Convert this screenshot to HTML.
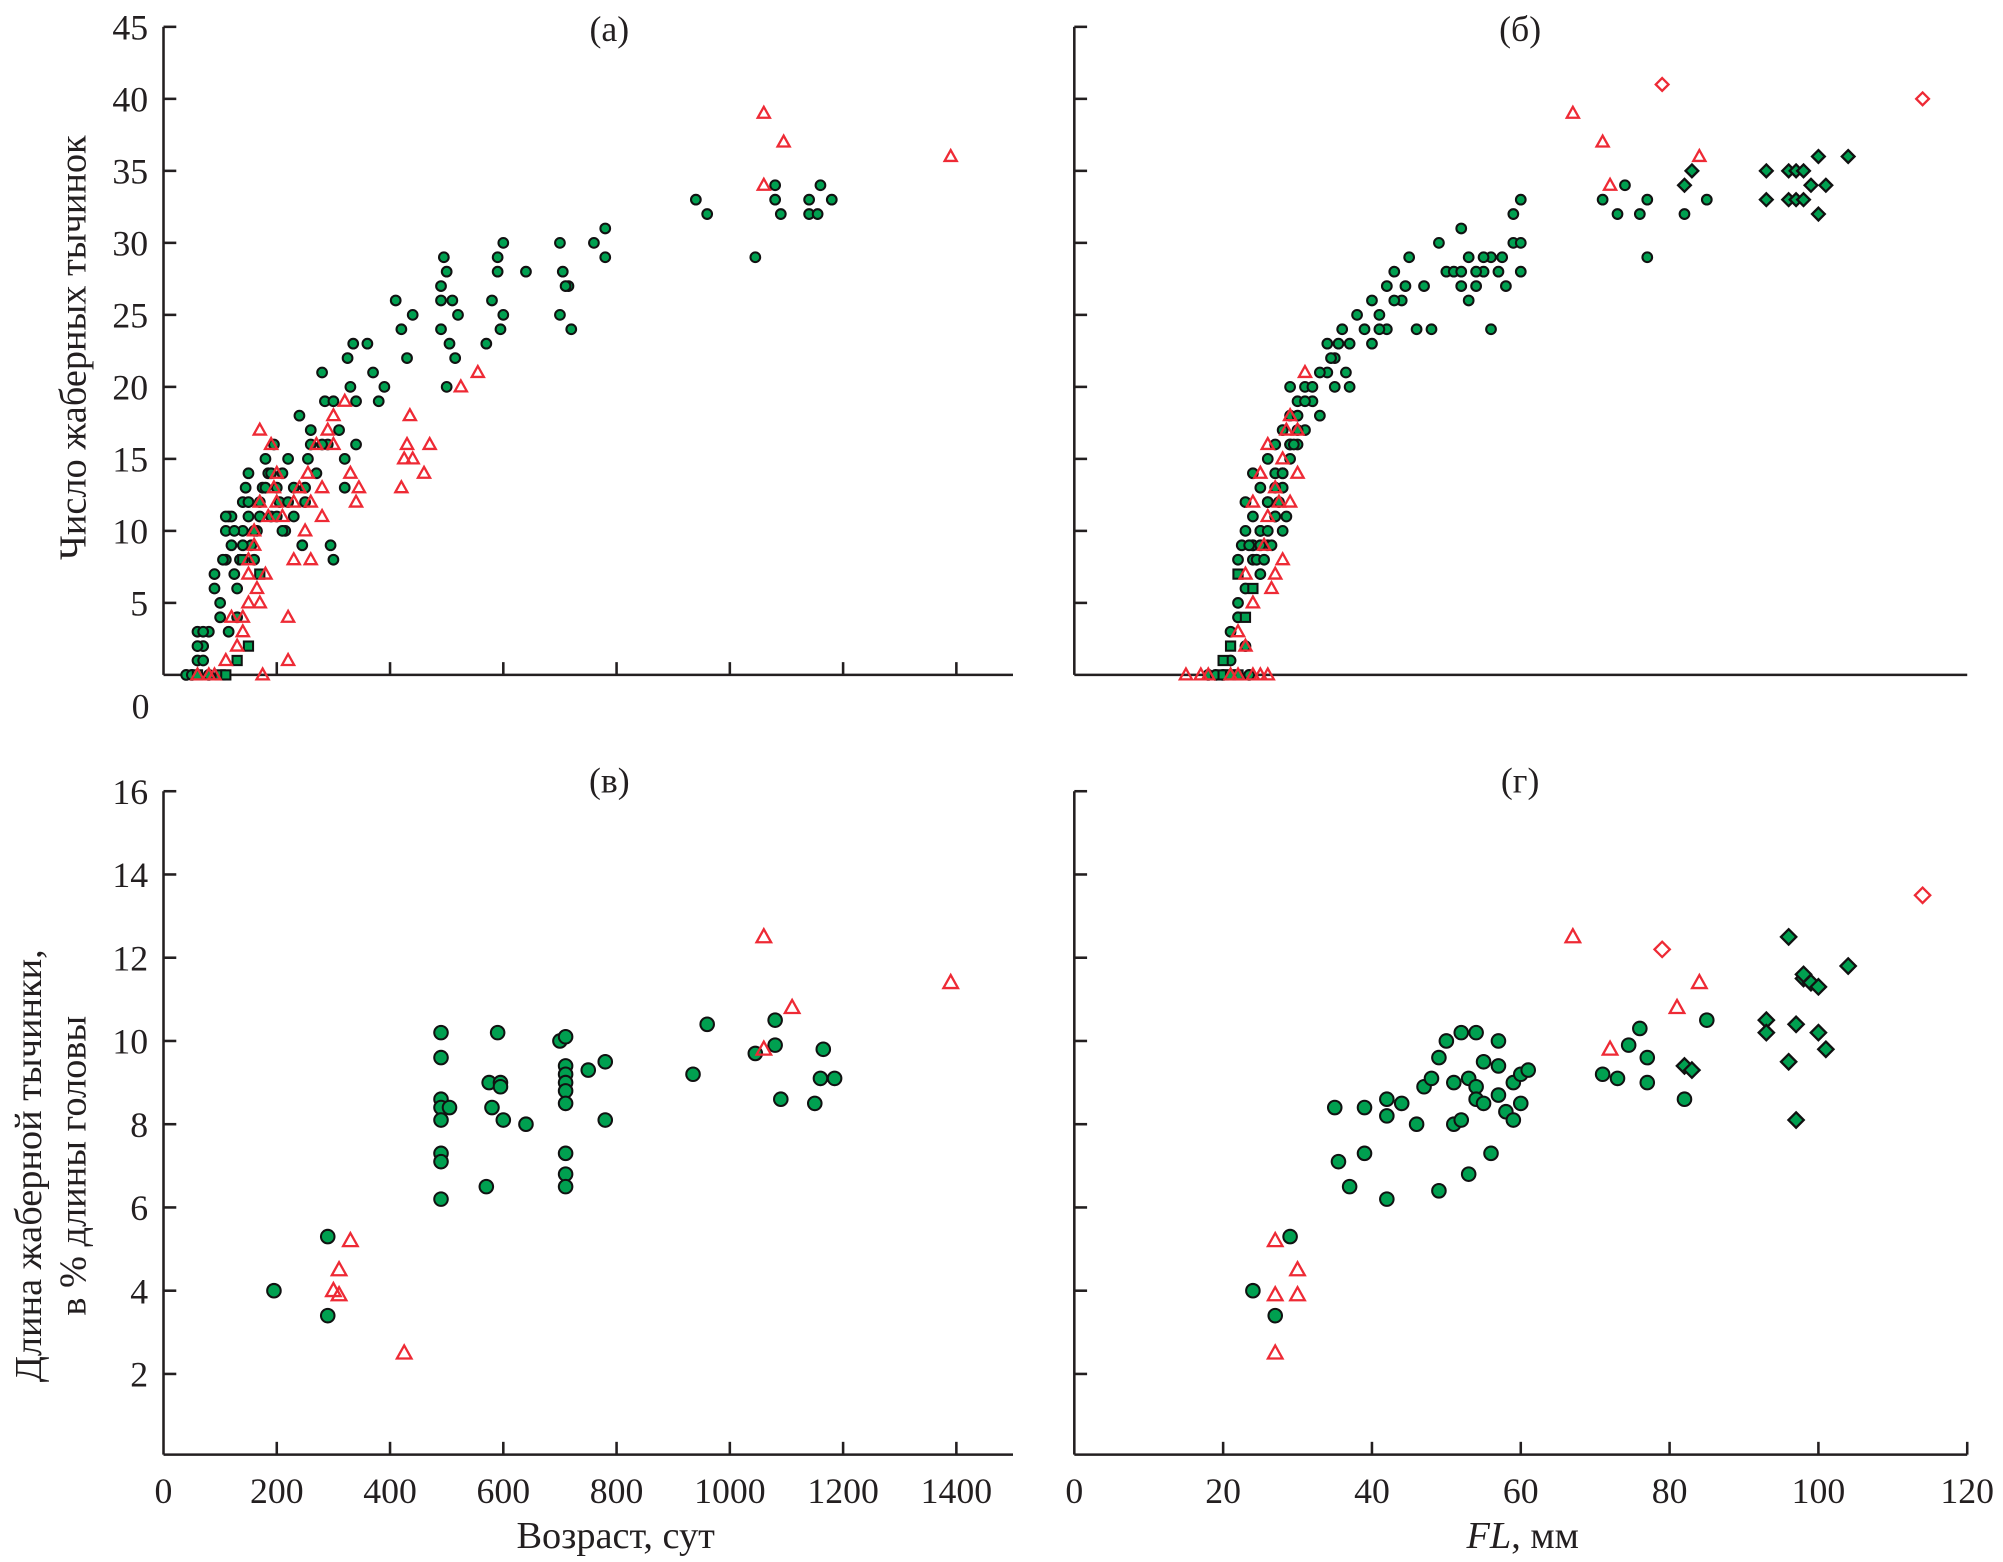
<!DOCTYPE html>
<html><head><meta charset="utf-8">
<style>html,body{margin:0;padding:0;background:#fff}svg{display:block}text{font-family:"Liberation Serif","DejaVu Serif",serif;fill:#231f20}</style>
</head><body>
<svg id="chart" xmlns="http://www.w3.org/2000/svg" width="2003" height="1562" viewBox="0 0 1568 1222" preserveAspectRatio="none"></svg>
<script>
// ---- Panel (а): age vs gill raker count ----
const aCircleX=[40,50,60,70,80,60,70,90,90,100,110,110,115,120,125,130,130,140,140,145,150,150,155,160,165,170,175,180,185,190,195,200,205,210,215,220,230,240,245,250,255,260,270,280,285,290,295,300,310,320,325,330,335,340,360,370,380,390,410,420,430,440,490,490,495,500,505,510,515,520,570,580,590,595,600,600,640,700,705,715,720,760,780,780,940,960,1045,1080,1080,1090,1140,1140,1160,1180,1155,100,105,120,125,135,140,150,160,170,180,190,200,210,220,230,250,260,280,300,320,340,500,490,700,710,590,60,70,80,110,115];
const aCircleY=[0,0,3,2,3,1,1,7,6,5,8,10,11,9,7,6,4,10,12,13,11,14,9,8,10,12,13,15,14,11,16,13,12,14,10,15,13,18,9,12,15,17,14,21,19,16,9,8,17,13,22,20,23,16,23,21,19,20,26,24,22,25,24,27,29,28,23,26,22,25,23,26,29,24,30,25,28,30,28,27,24,30,31,29,33,32,29,33,34,32,32,33,34,33,32,4,8,11,10,8,9,12,10,11,13,14,11,10,12,11,13,16,16,19,15,19,20,26,25,27,28,2,3,0,11,3];
const aTriX=[60,80,110,120,130,140,150,150,160,165,170,170,175,180,185,190,195,200,210,220,220,230,240,250,255,260,270,280,290,300,320,330,340,345,420,425,430,435,440,460,470,525,555,1060,1060,1095,1390,150,160,170,200,230,260,280,300,140,90];
const aTriY=[0,0,1,4,2,3,7,5,9,6,5,17,0,7,11,16,13,12,11,4,1,8,13,10,14,8,16,11,17,16,19,14,12,13,13,15,16,18,15,14,16,20,21,39,34,37,36,8,10,12,14,12,12,13,18,4,0];
const aSqX=[60,100,110,130,150,170,140];
const aSqY=[0,0,0,1,2,7,8];
// ---- Panel (б): FL vs gill raker count ----
const bCircleX=[20,21,21,22,22,23,23,23,24,24,24,25,25,25,26,26,26,27,27,27,28,28,28,29,29,29,30,30,31,31,32,33,34,34,35,35,36,37,37,38,39,40,40,41,42,42,43,44,45,46,47,48,49,50,51,52,52,53,53,54,55,56,56,57,58,59,59,60,60,60,71,73,74,76,77,77,82,85,23.5,18,19,22,23,24,25,26,27,28,29,30,24,25,26,27,28,29,30,31,32,33,22.5,23.5,24.5,25.5,26.5,27.5,28.5,29.5,34.5,35.5,36.5,41,43,44.5,52,54,55,57.5];
const bCircleY=[0,1,3,5,8,6,10,12,9,14,11,7,13,10,15,12,9,16,14,11,17,13,10,18,15,20,16,19,17,20,19,18,23,21,22,20,24,20,23,25,24,26,23,25,27,24,28,26,29,24,27,24,30,28,28,31,27,29,26,27,28,24,29,28,27,30,32,33,28,30,33,32,34,32,33,29,32,33,0,0,0,4,2,8,10,12,13,14,16,18,9,9,10,11,14,16,17,19,20,21,9,9,8,8,9,12,11,16,22,23,21,24,26,27,28,28,29,29];
const bTriX=[15,17,18,22,23,24,24,25,26,26,27,28,29,30,31,67,71,72,84,21,22,23,24,25,26,27,28,29,30,25.5,26.5,27.5,28.5];
const bTriY=[0,0,0,3,7,5,12,14,11,16,13,15,18,17,21,39,37,34,36,0,0,2,0,0,0,7,8,12,14,9,6,12,17];
const bSqX=[20,20,21,22,23,24,22,21];
const bSqY=[0,1,2,7,4,6,0,0];
const bDiaX=[82,83,93,93,96,96,97,97,98,98,99,100,100,101,104];
const bDiaY=[34,35,35,33,35,33,35,33,35,33,34,36,32,34,36];
const bOpenDiaX=[79,114];
const bOpenDiaY=[41,40];
// ---- Panel (в): age vs relative raker length ----
const cCircleX=[195,290,290,490,490,490,490,490,490,490,490,505,570,575,580,590,595,595,600,640,700,710,710,710,710,710,710,710,710,710,750,780,780,935,960,1045,1080,1080,1090,1150,1160,1165,1185];
const cCircleY=[4.0,5.3,3.4,10.2,9.6,8.6,8.4,8.1,7.3,7.1,6.2,8.4,6.5,9.0,8.4,10.2,9.0,8.9,8.1,8.0,10.0,10.1,9.4,9.2,9.0,8.8,8.5,7.3,6.8,6.5,9.3,9.5,8.1,9.2,10.4,9.7,10.5,9.9,8.6,8.5,9.1,9.8,9.1];
const cTriX=[300,310,310,330,425,1060,1060,1110,1390];
const cTriY=[4.0,3.9,4.5,5.2,2.5,12.5,9.8,10.8,11.4];
// ---- Panel (г): FL vs relative raker length ----
const dCircleX=[24,27,29,35,35.5,37,39,39,42,42,42,44,46,47,48,49,49,50,51,51,52,52,53,53,54,54,54,55,55,56,57,57,57,58,59,59,60,60,61,71,73,74.5,76,77,77,82,85];
const dCircleY=[4.0,3.4,5.3,8.4,7.1,6.5,7.3,8.4,8.6,8.2,6.2,8.5,8.0,8.9,9.1,6.4,9.6,10.0,9.0,8.0,8.1,10.2,9.1,6.8,10.2,8.9,8.6,9.5,8.5,7.3,10.0,9.4,8.7,8.3,9.0,8.1,8.5,9.2,9.3,9.2,9.1,9.9,10.3,9.6,9.0,8.6,10.5];
const dTriX=[27,27,27,30,30,67,72,81,84];
const dTriY=[5.2,3.9,2.5,4.5,3.9,12.5,9.8,10.8,11.4];
const dDiaX=[82,83,93,93,96,96,97,97,98,98,99,100,100,101,104];
const dDiaY=[9.4,9.3,10.5,10.2,12.5,9.5,10.4,8.1,11.5,11.6,11.4,11.3,10.2,9.8,11.8];
const dOpenDiaX=[79,114];
const dOpenDiaY=[12.2,13.5];
// tick labels
const topYTicks=[5,10,15,20,25,30,35,40,45];
const botYTicks=[2,4,6,8,10,12,14,16];
const ageTicks=[0,200,400,600,800,1000,1200,1400];
const flTicks=[0,20,40,60,80,100,120];

const NS="http://www.w3.org/2000/svg";
const svg=document.getElementById('chart');
function mk(tag,attrs,parent){const e=document.createElementNS(NS,tag);for(const k in attrs)e.setAttribute(k,attrs[k]);(parent||svg).appendChild(e);return e;}
const GREEN="#00a050",RED="#ee2a35";
function scale(d0,d1,p0,p1){return v=>p0+(v-d0)/(d1-d0)*(p1-p0);}
const P={
 a:{x:scale(0,1500,128,793),y:scale(0,45,528,21),l:128,r:793,t:21,b:528},
 b:{x:scale(0,120,841,1540),y:scale(0,45,528,21),l:841,r:1540,t:21,b:528},
 c:{x:scale(0,1500,128,793),y:scale(0,16,1140,619),l:128,r:793,t:619,b:1138},
 d:{x:scale(0,120,841,1540),y:scale(0,16,1140,619),l:841,r:1540,t:619,b:1138}
};
function axes(p,name){
 const g=mk('g',{});
 
 
 mk('line',{x1:p.l,y1:p.t,x2:p.l,y2:p.b,stroke:'#231f20','stroke-width':2},g);
 mk('line',{x1:p.l,y1:p.b,x2:p.r,y2:p.b,stroke:'#231f20','stroke-width':2},g);
 return g;
}
function yTicks(p,ticks,labels,name){
 ticks.forEach(v=>{const y=p.y(v);
  const t=mk('line',{x1:p.l,y1:y,x2:p.l+10,y2:y,stroke:'#231f20','stroke-width':2});
  
  
  if(labels){const tx=mk('text',{x:p.l-12,y:y+10,'text-anchor':'end','font-size':28});tx.textContent=v;
   
   }
 });
}
function xTicks(p,ticks,labels,name){
 ticks.forEach(v=>{const x=p.x(v);
  if(v>0){const t=mk('line',{x1:x,y1:p.b,x2:x,y2:p.b-10,stroke:'#231f20','stroke-width':2});
   
   }
  if(labels){const tx=mk('text',{x:x,y:p.b+38,'text-anchor':'middle','font-size':28});tx.textContent=v;
   
   }
 });
}
function circles(p,xs,ys,r,name){xs.forEach((v,i)=>{const c=mk('circle',{cx:p.x(v),cy:p.y(ys[i]),r:r,fill:GREEN,stroke:'#111','stroke-width':1.6});
 
 });}
function squares(p,xs,ys,s,name){xs.forEach((v,i)=>{const c=mk('rect',{x:p.x(v)-s,y:p.y(ys[i])-s,width:2*s,height:2*s,fill:GREEN,stroke:'#111','stroke-width':1.6});
 
 });}
function tris(p,xs,ys,s,name){xs.forEach((v,i)=>{const x=p.x(v),y=p.y(ys[i]);
 const c=mk('polygon',{points:`${x},${y-s} ${x-s*0.95},${y+s*0.7} ${x+s*0.95},${y+s*0.7}`,fill:'none',stroke:RED,'stroke-width':1.8});
 
 });}
function dias(p,xs,ys,s,fill,stroke,name){xs.forEach((v,i)=>{const x=p.x(v),y=p.y(ys[i]);
 const c=mk('polygon',{points:`${x},${y-s} ${x+s},${y} ${x},${y+s} ${x-s},${y}`,fill:fill,stroke:stroke,'stroke-width':1.8});
 
 });}

axes(P.a,'panel-a');axes(P.b,'panel-b');axes(P.c,'panel-c');axes(P.d,'panel-d');
yTicks(P.a,topYTicks,true,'panel-a');yTicks(P.b,topYTicks,false,'panel-b');
yTicks(P.c,botYTicks,true,'panel-c');yTicks(P.d,botYTicks,false,'panel-d');
xTicks(P.a,[200,400,600,800,1000,1200,1400],false,'panel-a');
xTicks(P.c,ageTicks,true,'panel-c');xTicks(P.d,flTicks,true,'panel-d');

circles(P.a,aCircleX,aCircleY,3.8,'panel-a-circle');
squares(P.a,aSqX,aSqY,3.6,'panel-a-square');
tris(P.a,aTriX,aTriY,5,'panel-a-triangle');
circles(P.b,bCircleX,bCircleY,3.8,'panel-b-circle');
squares(P.b,bSqX,bSqY,3.6,'panel-b-square');
tris(P.b,bTriX,bTriY,5,'panel-b-triangle');
dias(P.b,bDiaX,bDiaY,5,GREEN,'#111','panel-b-diamond');
dias(P.b,bOpenDiaX,bOpenDiaY,5,'none',RED,'panel-b-open-diamond');
circles(P.c,cCircleX,cCircleY,5.3,'panel-c-circle');
tris(P.c,cTriX,cTriY,6,'panel-c-triangle');
circles(P.d,dCircleX,dCircleY,5.3,'panel-d-circle');
tris(P.d,dTriX,dTriY,6,'panel-d-triangle');
dias(P.d,dDiaX,dDiaY,6,GREEN,'#111','panel-d-diamond');
dias(P.d,dOpenDiaX,dOpenDiaY,6,'none',RED,'panel-d-open-diamond');
</script>
<script>
(function(){
const NS="http://www.w3.org/2000/svg";const svg=document.getElementById('chart');
function txt(x,y,s,size,name,extra){const t=document.createElementNS(NS,'text');t.setAttribute('x',x);t.setAttribute('y',y);t.setAttribute('font-size',size);t.setAttribute('text-anchor','middle');if(extra)t.setAttribute('transform',extra);t.innerHTML=s;svg.appendChild(t);


return t;}
txt(477,32,'(а)',28,'panel-a-label');
txt(1190,32,'(б)',28,'panel-b-label');
txt(477,620,'(в)',28,'panel-c-label');
txt(1190,620,'(г)',28,'panel-d-label');
txt(110,562,'0',28,'top-zero-label');
txt(482,1211,'Возраст, сут',30,'x-axis-title-age');
txt(1192,1211,'<tspan font-style="italic">FL</tspan>, мм',30,'x-axis-title-fl');
txt(0,0,'Число жаберных тычинок',30,'y-axis-title-top','translate(67,272) rotate(-90)');
txt(0,0,'Длина жаберной тычинки,',30,'y-axis-title-bottom-line1','translate(32,912) rotate(-90)');
txt(0,0,'в % длины головы',30,'y-axis-title-bottom-line2','translate(67,912) rotate(-90)');
})();
</script>
</body></html>
